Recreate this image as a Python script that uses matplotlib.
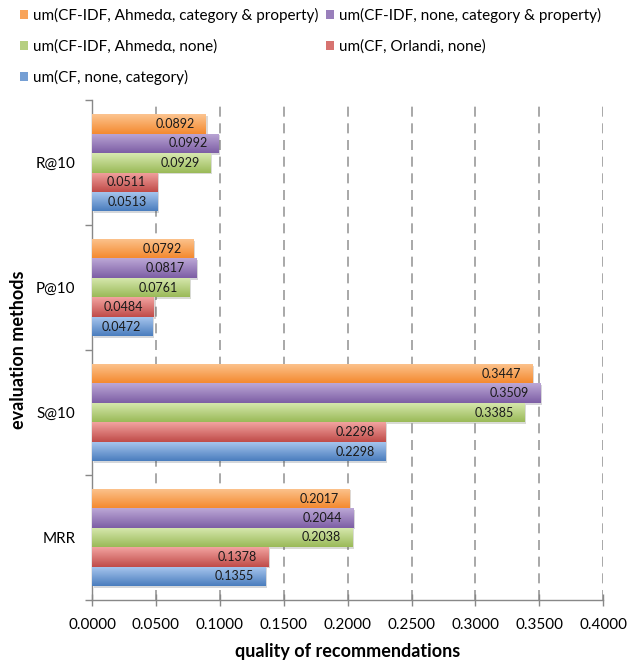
import numpy as np
import matplotlib
matplotlib.use("Agg")
import matplotlib.pyplot as plt
from matplotlib import patheffects
from matplotlib.colors import LinearSegmentedColormap
from matplotlib.patches import Rectangle

plt.rcParams['font.family'] = ['Lato', 'DejaVu Sans']

# evaluation methods, bottom to top
methods = ['MRR', 'S@10', 'P@10', 'R@10']

series_names = [
    'um(CF-IDF, Ahmedα, category & property)',
    'um(CF-IDF, none, category & property)',
    'um(CF-IDF, Ahmedα, none)',
    'um(CF, Orlandi, none)',
    'um(CF, none, category)',
]

# one list per series, in the order of methods
cfidf_ahmed_catprop = [0.2017, 0.3447, 0.0792, 0.0892]
cfidf_none_catprop = [0.2044, 0.3509, 0.0817, 0.0992]
cfidf_ahmed_none = [0.2038, 0.3385, 0.0761, 0.0929]
cf_orlandi_none = [0.1378, 0.2298, 0.0484, 0.0511]
cf_none_category = [0.1355, 0.2298, 0.0472, 0.0513]

series_values = [cfidf_ahmed_catprop, cfidf_none_catprop, cfidf_ahmed_none,
                 cf_orlandi_none, cf_none_category]

# (light top, dark bottom) for the gradient fill
series_colors = [
    ('#fcc490', '#f48a2f'),
    ('#bca8d6', '#7d5ea5'),
    ('#d8e9b0', '#9aba58'),
    ('#f2a3a0', '#c04c49'),
    ('#aac8ef', '#4a7dbe'),
]

xticks = np.arange(0, 0.4001, 0.05)

fig = plt.figure(figsize=(6.39, 6.60), dpi=100)
ax = fig.add_axes([0.144, 0.091, 0.800, 0.757])

y = np.arange(len(methods))
h = 0.156
offsets = [2, 1, 0, -1, -2]

handles = []
for vals, (light, dark), name, off in zip(series_values, series_colors, series_names, offsets):
    bars = ax.barh(y + off * h, vals, height=h, color=dark, edgecolor='none', zorder=3)
    cmap = LinearSegmentedColormap.from_list('g', [light, dark])
    for b, v in zip(bars, vals):
        b.set_path_effects([patheffects.SimplePatchShadow(offset=(1.2, -1.2), alpha=0.18),
                            patheffects.Normal()])
        x0, y0 = b.get_x(), b.get_y()
        w, hh = b.get_width(), b.get_height()
        grad = np.linspace(0, 1, 64).reshape(-1, 1)
        im = ax.imshow(grad, cmap=cmap, aspect='auto', origin='upper',
                       extent=(x0, x0 + w, y0, y0 + hh), zorder=4)
        im.set_clip_path(b)
        ax.annotate(f'{v:.4f}', xy=(v, y0 + hh / 2), xytext=(-8, 0),
                    textcoords='offset points', ha='right', va='center',
                    fontsize=9, color='#1a1a1a', zorder=5)
    handles.append(Rectangle((0, 0), 1, 1, facecolor=cmap(0.55), edgecolor='none'))

ax.set_xlim(0, 0.4)
ax.set_ylim(-0.5, 3.5)

ax.set_xticks(xticks)
ax.set_xticklabels([f'{t:.4f}' for t in xticks], fontsize=11)
ax.set_yticks(y)
ax.set_yticklabels(methods, fontsize=11)
ax.set_yticks(np.arange(-0.5, 3.6, 1), minor=True)
ax.tick_params(axis='y', which='major', length=0, pad=12)
ax.tick_params(axis='y', which='minor', length=5, color='#888888', width=1)
ax.tick_params(axis='x', direction='inout', length=8, color='#888888', width=1, pad=9)

ax.grid(axis='x', color='#999999', linestyle=(0, (6, 4)), linewidth=1.2, zorder=0)
for s in ['top', 'right']:
    ax.spines[s].set_visible(False)
for s in ['left', 'bottom']:
    ax.spines[s].set_color('#888888')
    ax.spines[s].set_linewidth(1)

ax.set_xlabel('quality of recommendations', fontsize=13, fontweight='bold', labelpad=8)
ax.set_ylabel('evaluation methods', fontsize=13, fontweight='bold', labelpad=6)

# legend reads row by row: fill columns in matching order
order = [0, 2, 4, 1, 3]
leg = fig.legend([handles[i] for i in order], [series_names[i] for i in order],
                 ncol=2, loc='upper left', bbox_to_anchor=(0.031, 0.988),
                 borderpad=0, borderaxespad=0,
                 frameon=False, fontsize=11, handlelength=0.55, handleheight=0.55,
                 handletextpad=0.3, columnspacing=0.5, labelspacing=1.06)

fig.savefig('out.png', dpi=100)
